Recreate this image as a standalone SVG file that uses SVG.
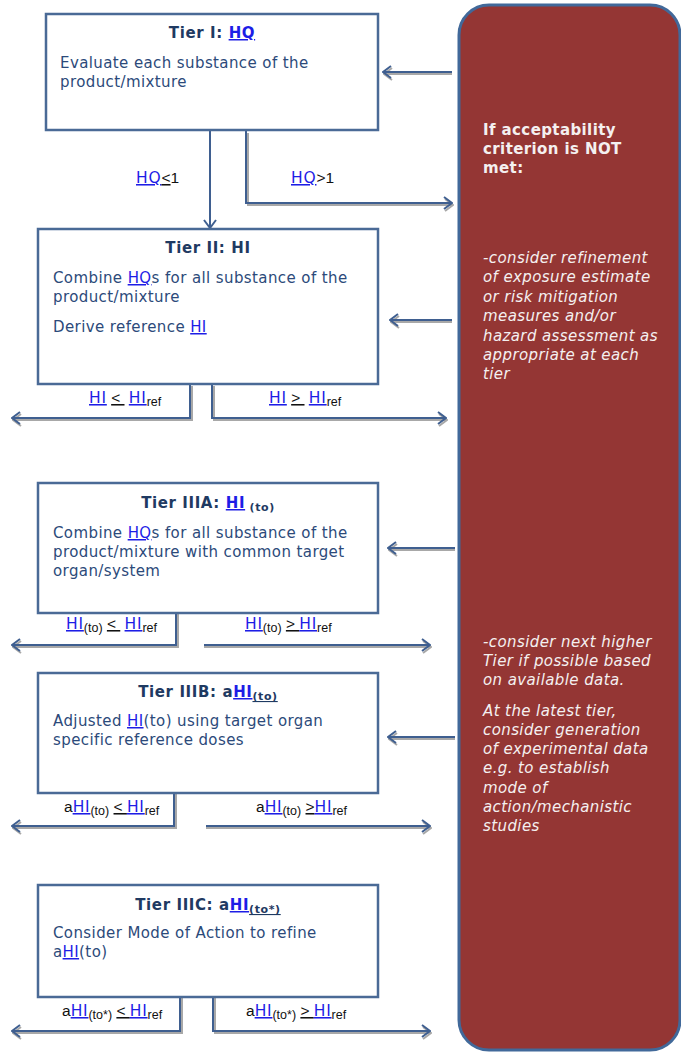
<svg xmlns="http://www.w3.org/2000/svg" width="681" height="1052" viewBox="0 0 681 1052">
<style>
.box{fill:#fff;stroke:#4a6a96;stroke-width:2.5}
.ttl{font-family:"DejaVu Sans",Verdana,sans-serif;font-weight:bold;font-size:15px;letter-spacing:0.6px;fill:#1f3a62}
.bd{font-family:"DejaVu Sans",Verdana,sans-serif;font-size:15px;letter-spacing:0.4px;fill:#2c4a7a}
.lk{fill:#1d1de6;text-decoration:underline}
.lbl{font-family:"Liberation Sans",Arial,sans-serif;font-size:15.5px;fill:#111}
.v{font-family:"DejaVu Sans",Verdana,sans-serif;letter-spacing:0.8px}
.ul{text-decoration:underline}
.sub{font-size:12.5px}
.tsub{font-size:11px}
.con{fill:none;stroke:#3f5f90;stroke-width:2;marker-end:url(#ab)}
.sh{fill:none;stroke:#a8a8a8;stroke-width:2;marker-end:url(#ag)}
.pt{font-family:"DejaVu Sans",Verdana,sans-serif;font-size:15px;letter-spacing:0.4px;fill:#f4f0f0}
.pb{font-weight:bold}
.pi{font-style:italic}
</style>
<defs>
<marker id="ab" viewBox="0 0 10 14" refX="9" refY="7" markerWidth="10" markerHeight="14" markerUnits="userSpaceOnUse" orient="auto"><path d="M1,1 L9,7 L1,13" fill="none" stroke="#3f5f90" stroke-width="2"/></marker>
<marker id="ag" viewBox="0 0 10 14" refX="9" refY="7" markerWidth="10" markerHeight="14" markerUnits="userSpaceOnUse" orient="auto"><path d="M1,1 L9,7 L1,13" fill="none" stroke="#a8a8a8" stroke-width="2"/></marker>
</defs>

<g id="panel">
<rect x="459" y="5" width="221" height="1045" rx="30" ry="30" fill="#943634" stroke="#41699a" stroke-width="3"/>
<text class="pt pb" x="483" y="135">If acceptability</text>
<text class="pt pb" x="483" y="154">criterion is NOT</text>
<text class="pt pb" x="483" y="173">met:</text>
<text class="pt pi" x="483" y="263">-consider refinement</text>
<text class="pt pi" x="483" y="282">of exposure estimate</text>
<text class="pt pi" x="483" y="302">or risk mitigation</text>
<text class="pt pi" x="483" y="321">measures and/or</text>
<text class="pt pi" x="483" y="341">hazard assessment as</text>
<text class="pt pi" x="483" y="360">appropriate at each</text>
<text class="pt pi" x="483" y="379">tier</text>
<text class="pt pi" x="483" y="647">-consider next higher</text>
<text class="pt pi" x="483" y="666">Tier if possible based</text>
<text class="pt pi" x="483" y="685">on available data.</text>
<text class="pt pi" x="483" y="716">At the latest tier,</text>
<text class="pt pi" x="483" y="735">consider generation</text>
<text class="pt pi" x="483" y="754">of experimental data</text>
<text class="pt pi" x="483" y="773">e.g. to establish</text>
<text class="pt pi" x="483" y="793">mode of</text>
<text class="pt pi" x="483" y="812">action/mechanistic</text>
<text class="pt pi" x="483" y="831">studies</text>
</g>

<g id="connectors">
<path class="sh" d="M248,133 V205 H453"/>
<path class="con" d="M246,131 V203 H452"/>
<path class="con" d="M210,131 V228"/>
<path class="sh" d="M452,74 H384"/>
<path class="con" d="M452,72 H383"/>
<path class="sh" d="M452,322 H391"/>
<path class="con" d="M452,320 H390"/>
<path class="sh" d="M455,550 H389"/>
<path class="con" d="M455,548 H388"/>
<path class="sh" d="M455,739 H389"/>
<path class="con" d="M455,737 H388"/>
<path class="sh" d="M192,386 V420 H13"/>
<path class="con" d="M190,385 V418 H12"/>
<path class="sh" d="M214,386 V420 H447"/>
<path class="con" d="M212,385 V418 H446"/>
<path class="sh" d="M178,614 V647 H13"/>
<path class="con" d="M176,613 V645 H12"/>
<path class="sh" d="M204,647 H431"/>
<path class="con" d="M204,645 H430"/>
<path class="sh" d="M176,794 V828 H13"/>
<path class="con" d="M174,793 V826 H12"/>
<path class="sh" d="M206,828 H431"/>
<path class="con" d="M206,826 H430"/>
<path class="sh" d="M182,998 V1033 H13"/>
<path class="con" d="M180,997 V1031 H12"/>
<path class="sh" d="M215,998 V1033 H431"/>
<path class="con" d="M213,997 V1031 H430"/>
<text class="lbl" x="136" y="183" xml:space="preserve"><tspan class="v lk">HQ</tspan><tspan class="ul">&lt;</tspan>1</text>
<text class="lbl" x="291" y="183" xml:space="preserve"><tspan class="v lk">HQ</tspan>&gt;1</text>
<text class="lbl" x="89" y="403" xml:space="preserve"><tspan class="v lk">HI</tspan> <tspan class="ul">&lt; </tspan> <tspan class="v lk">HI</tspan><tspan class="sub" dy="3">ref</tspan></text>
<text class="lbl" x="269" y="403" xml:space="preserve"><tspan class="v lk">HI</tspan> <tspan class="ul">&gt; </tspan> <tspan class="v lk">HI</tspan><tspan class="sub" dy="3">ref</tspan></text>
<text class="lbl" x="66" y="629" xml:space="preserve"><tspan class="v lk">HI</tspan><tspan class="sub" dy="3">(to)</tspan><tspan dy="-3"> </tspan><tspan class="ul">&lt; </tspan> <tspan class="v lk">HI</tspan><tspan class="sub" dy="3">ref</tspan></text>
<text class="lbl" x="245" y="629" xml:space="preserve"><tspan class="v lk">HI</tspan><tspan class="sub" dy="3">(to)</tspan><tspan dy="-3"> </tspan><tspan class="ul">&gt; </tspan><tspan class="v lk">HI</tspan><tspan class="sub" dy="3">ref</tspan></text>
<text class="lbl" x="64" y="812" xml:space="preserve">a<tspan class="v lk">HI</tspan><tspan class="sub" dy="3">(to)</tspan><tspan dy="-3"> </tspan><tspan class="ul">&lt; </tspan><tspan class="v lk">HI</tspan><tspan class="sub" dy="3">ref</tspan></text>
<text class="lbl" x="256" y="812" xml:space="preserve">a<tspan class="v lk">HI</tspan><tspan class="sub" dy="3">(to)</tspan><tspan dy="-3"> </tspan><tspan class="ul">&gt;</tspan><tspan class="v lk">HI</tspan><tspan class="sub" dy="3">ref</tspan></text>
<text class="lbl" x="62" y="1016" xml:space="preserve">a<tspan class="v lk">HI</tspan><tspan class="sub" dy="3">(to*)</tspan><tspan dy="-3"> </tspan><tspan class="ul">&lt; </tspan><tspan class="v lk">HI</tspan><tspan class="sub" dy="3">ref</tspan></text>
<text class="lbl" x="246" y="1016" xml:space="preserve">a<tspan class="v lk">HI</tspan><tspan class="sub" dy="3">(to*)</tspan><tspan dy="-3"> </tspan><tspan class="ul">&gt; </tspan><tspan class="v lk">HI</tspan><tspan class="sub" dy="3">ref</tspan></text>
</g>

<g id="tier1">
<rect class="box" x="46" y="14" width="332" height="116"/>
<text class="ttl" x="212" y="38" text-anchor="middle">Tier I: <tspan class="lk">HQ</tspan></text>
<text class="bd" x="60" y="68">Evaluate each substance of the</text>
<text class="bd" x="60" y="87">product/mixture</text>
</g>

<g id="tier2">
<rect class="box" x="38" y="229" width="340" height="155"/>
<text class="ttl" x="208" y="253" text-anchor="middle">Tier II: HI</text>
<text class="bd" x="53" y="283">Combine <tspan class="lk">HQ</tspan>s for all substance of the</text>
<text class="bd" x="53" y="302">product/mixture</text>
<text class="bd" x="53" y="332">Derive reference <tspan class="lk">HI</tspan></text>
</g>

<g id="tier3a">
<rect class="box" x="38" y="483" width="340" height="130"/>
<text class="ttl" x="208" y="508" text-anchor="middle" xml:space="preserve">Tier IIIA: <tspan class="lk">HI</tspan><tspan class="tsub" dy="3"> (to)</tspan></text>
<text class="bd" x="53" y="538">Combine <tspan class="lk">HQ</tspan>s for all substance of the</text>
<text class="bd" x="53" y="557">product/mixture with common target</text>
<text class="bd" x="53" y="576">organ/system</text>
</g>

<g id="tier3b">
<rect class="box" x="38" y="673" width="340" height="120"/>
<text class="ttl" x="208" y="697" text-anchor="middle">Tier IIIB: a<tspan class="lk">HI</tspan><tspan class="tsub ul" dy="3">(to)</tspan></text>
<text class="bd" x="53" y="726">Adjusted <tspan class="lk">HI</tspan>(to) using target organ</text>
<text class="bd" x="53" y="745">specific reference doses</text>
</g>

<g id="tier3c">
<rect class="box" x="38" y="885" width="340" height="112"/>
<text class="ttl" x="208" y="910" text-anchor="middle">Tier IIIC: a<tspan class="lk">HI</tspan><tspan class="tsub ul" dy="3">(to*)</tspan></text>
<text class="bd" x="53" y="938">Consider Mode of Action to refine</text>
<text class="bd" x="53" y="957">a<tspan class="lk">HI</tspan>(to)</text>
</g>
</svg>
